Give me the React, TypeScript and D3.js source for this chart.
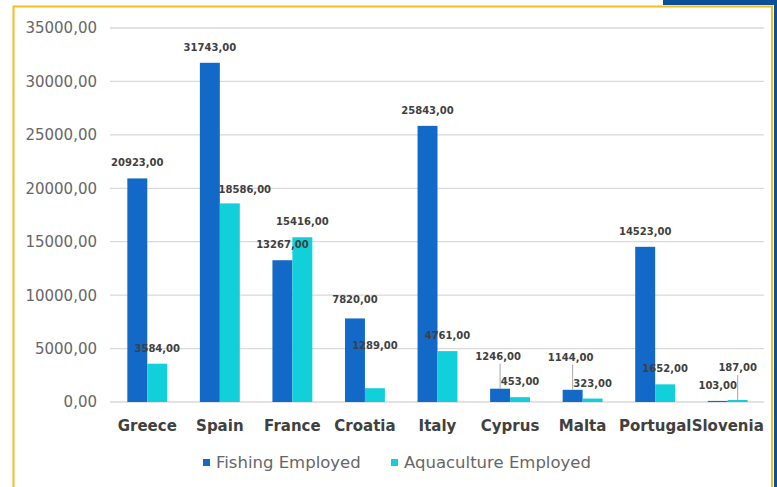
import React from "react";
import * as d3 from "d3";

// Employment per country
const countries = [
  "Greece",
  "Spain",
  "France",
  "Croatia",
  "Italy",
  "Cyprus",
  "Malta",
  "Portugal",
  "Slovenia",
];
const fishingEmployed = [20923, 31743, 13267, 7820, 25843, 1246, 1144, 14523, 103];
const aquacultureEmployed = [3584, 18586, 15416, 1289, 4761, 453, 323, 1652, 187];
const yTicks = [0, 5000, 10000, 15000, 20000, 25000, 30000, 35000];
const seriesNames = ["Fishing Employed", "Aquaculture Employed"];

const COLORS = ["#1369c7", "#11d0d9"];
const W = 777;
const H = 487;
const FONT = "'DejaVu Sans', sans-serif";

// label nudges (px) for labels that were moved off their bars, with leader flag
const labelNudge: Record<string, { dx: number; dy: number; leader?: boolean }> = {
  "Spain-1": { dx: 15, dy: 2 },
  "Croatia-0": { dx: 0, dy: -3 },
  "Croatia-1": { dx: 0, dy: -27 },
  "Cyprus-0": { dx: -2, dy: -17, leader: true },
  "Malta-0": { dx: -2, dy: -17, leader: true },
  "Slovenia-1": { dx: 0, dy: -17, leader: true },
};

const fmt = (v: number) => v.toFixed(2).replace(".", ",");

export default function App() {
  const x = d3
    .scaleBand<string>()
    .domain(countries)
    .range([111, 764])
    .paddingInner(0.45)
    .paddingOuter(0.225);
  const xs = d3
    .scaleBand<number>()
    .domain([0, 1])
    .range([0, x.bandwidth()]);
  const y = d3.scaleLinear().domain([0, 35000]).range([402, 28]);

  const series = [fishingEmployed, aquacultureEmployed];

  return (
    <svg
      width={W}
      height={H}
      style={{ position: "absolute", left: 0, top: 0, background: "#fff" }}
    >
      {/* frame */}
      <rect x={663} y={0} width={114} height={5} fill="#0b4f96" />
      <rect x={774} y={0} width={3} height={H} fill="#0b4f96" />
      <path
        d={`M13.5,${H} V6.5 H772 V${H}`}
        fill="none"
        stroke="#f5bd1f"
        strokeWidth={2}
      />

      {/* grid + y labels */}
      {yTicks.map((t) => (
        <g key={t}>
          <line
            x1={110}
            x2={764}
            y1={y(t)}
            y2={y(t)}
            stroke="#d9d9d9"
            strokeWidth={1.3}
          />
          <text
            x={97}
            y={y(t)}
            dy="0.36em"
            textAnchor="end"
            fontFamily={FONT}
            fontSize={15}
            fill="#666666"
          >
            {fmt(t)}
          </text>
        </g>
      ))}

      {/* bars */}
      {series.map((vals, si) =>
        countries.map((c, i) => (
          <rect
            key={`${c}-${si}`}
            x={(x(c) ?? 0) + (xs(si) ?? 0)}
            y={y(vals[i])}
            width={xs.bandwidth()}
            height={y(0) - y(vals[i])}
            fill={COLORS[si]}
          />
        ))
      )}

      {/* data labels */}
      {series.map((vals, si) =>
        countries.map((c, i) => {
          const key = `${c}-${si}`;
          const n = labelNudge[key] || { dx: 0, dy: 0 };
          const cx = (x(c) ?? 0) + (xs(si) ?? 0) + xs.bandwidth() / 2;
          const top = y(vals[i]);
          const by = top - 12 + n.dy;
          return (
            <g key={key}>
              {n.leader && (
                <line
                  x1={cx}
                  x2={cx}
                  y1={by + 4}
                  y2={top}
                  stroke="#a6a6a6"
                  strokeWidth={1}
                />
              )}
              <text
                x={cx + n.dx}
                y={by}
                textAnchor="middle"
                fontFamily={FONT}
                fontSize={10}
                fontWeight="bold"
                fill="#404040"
              >
                {fmt(vals[i])}
              </text>
            </g>
          );
        })
      )}

      {/* x labels */}
      {countries.map((c) => (
        <text
          key={c}
          x={(x(c) ?? 0) + x.bandwidth() / 2}
          y={431}
          textAnchor="middle"
          fontFamily={FONT}
          fontSize={15}
          fontWeight="bold"
          fill="#404040"
        >
          {c}
        </text>
      ))}

      {/* legend */}
      {seriesNames.map((s, si) => {
        const lx = si === 0 ? 203 : 391;
        return (
          <g key={s}>
            <rect x={lx} y={459} width={7} height={7} fill={COLORS[si]} />
            <text
              x={lx + 13}
              y={468}
              fontFamily={FONT}
              fontSize={16.5}
              fill="#666666"
            >
              {s}
            </text>
          </g>
        );
      })}
    </svg>
  );
}
